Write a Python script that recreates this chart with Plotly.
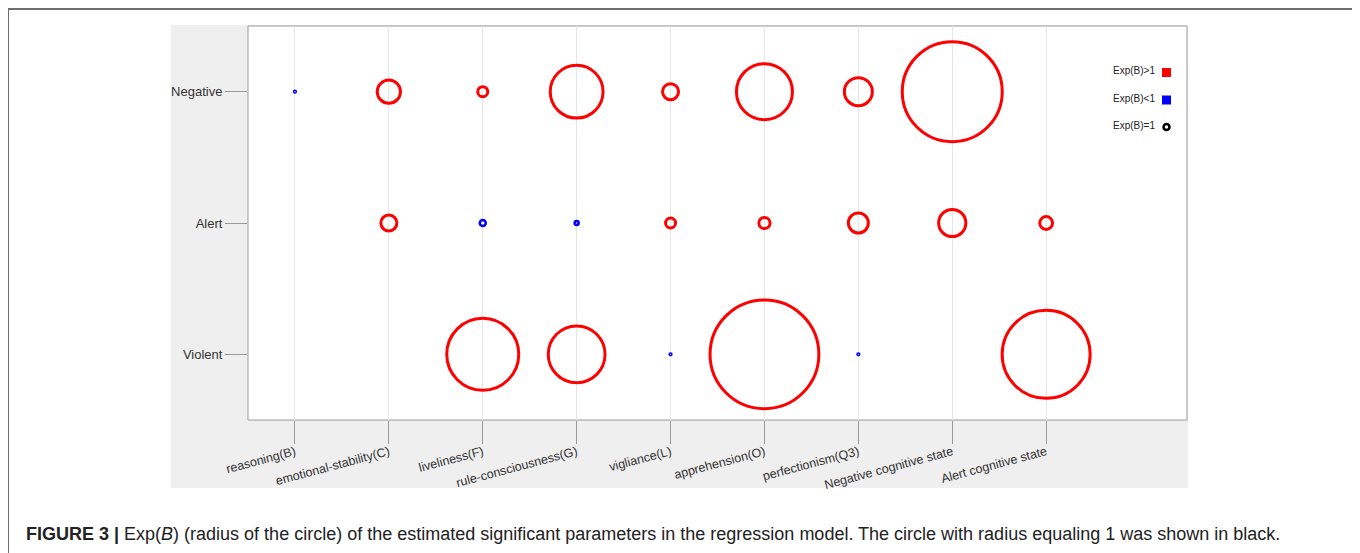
import plotly.graph_objects as go

# ---------------- data ----------------
categories = ["reasoning(B)", "emotional-stability(C)", "liveliness(F)",
              "rule-consciousness(G)", "vigliance(L)", "apprehension(O)",
              "perfectionism(Q3)", "Negative cognitive state", "Alert cognitive state"]
rows = ["Violent", "Alert", "Negative"]

# Exp(B) per category (None = not significant)
negative_expb = [0.35, 2.9, 1.25, 6.6, 2.0, 7.0, 3.5, 12.5, None]
alert_expb = [None, 2.0, 0.75, 0.5, 1.25, 1.4, 2.5, 3.4, 1.6]
violent_expb = [None, None, 9.0, 7.1, 0.35, 13.6, 0.35, None, 11.0]

legend_labels = ["Exp(B)>1", "Exp(B)<1", "Exp(B)=1"]
caption_bold = "FIGURE 3 |"
caption_text = ("Exp(<i>B</i>) (radius of the circle) of the estimated significant parameters "
                "in the regression model. The circle with radius equaling 1 was shown in black.")

# ---------------- layout constants ----------------
OFF = 8  # default page body margin
W, H = 1360 - OFF, 553 - OFF
L, R, T, B = 248, 1187, 26, 420  # page pixel coords of the plot area
PW, PH = R - L, B - T
PX_PER_UNIT = 8.0


def px(x):
    return (x - L) / PW


def py(y):
    return 1 - (y - T) / PH


def colour(v):
    if v > 1:
        return "#ff0000"
    if v < 1:
        return "#0000ff"
    return "#000000"


def stroke(v):
    if v > 1:
        return 3
    return 2.5 if v >= 0.5 else 1.5


fig = go.Figure()

for row_name, vals in zip(["Negative", "Alert", "Violent"],
                          [negative_expb, alert_expb, violent_expb]):
    xs, ys, sizes, cols, widths = [], [], [], [], []
    for cat, v in zip(categories, vals):
        if v is None:
            continue
        xs.append(cat)
        ys.append(row_name)
        sizes.append(v * PX_PER_UNIT)
        cols.append(colour(v))
        widths.append(stroke(v))
    fig.add_trace(go.Scatter(
        x=xs, y=ys, mode="markers", showlegend=False, hoverinfo="skip",
        marker=dict(symbol="circle-open", size=sizes, color=cols, opacity=1,
                    line=dict(width=widths, color=cols)),
    ))

shapes = []
# outer figure frame
frame_col = "#6e6e6e"
shapes.append(dict(type="line", xref="paper", yref="paper", x0=px(8), x1=px(1355),
                   y0=py(9), y1=py(9), line=dict(color=frame_col, width=2), layer="below"))
shapes.append(dict(type="line", xref="paper", yref="paper", x0=px(8), x1=px(8),
                   y0=py(9), y1=py(556), line=dict(color=frame_col, width=2), layer="below"))
shapes.append(dict(type="line", xref="paper", yref="paper", x0=px(1355), x1=px(1355),
                   y0=py(9), y1=py(545), line=dict(color=frame_col, width=2), layer="below"))
# gray panel
shapes.append(dict(type="rect", xref="paper", yref="paper", x0=px(171), x1=px(1188),
                   y0=py(488), y1=py(25), fillcolor="#efefef", line=dict(width=0), layer="below"))
# white plot area
shapes.append(dict(type="rect", xref="paper", yref="paper", x0=0, x1=1, y0=0, y1=1,
                   fillcolor="#ffffff", line=dict(color="#9a9a9a", width=1), layer="below"))

# custom legend
leg_y = [py(72.5), py(100), py(127)]
leg_x = px(1166.5)
leg_cols = ["#ff0000", "#0000ff", None]
annotations = []
for lab, yy, c in zip(legend_labels, leg_y, leg_cols):
    if c is not None:
        shapes.append(dict(type="rect", xref="paper", yref="paper", xsizemode="pixel",
                           ysizemode="pixel", xanchor=leg_x, yanchor=yy,
                           x0=-4.5, x1=4.5, y0=-4.5, y1=4.5, fillcolor=c, line=dict(width=0)))
    else:
        shapes.append(dict(type="circle", xref="paper", yref="paper", xsizemode="pixel",
                           ysizemode="pixel", xanchor=leg_x, yanchor=yy,
                           x0=-3, x1=3, y0=-3, y1=3, fillcolor="rgba(0,0,0,0)",
                           line=dict(color="#000000", width=2.5)))
    annotations.append(dict(xref="paper", yref="paper", x=px(1157), y=yy + 0.004, text=lab,
                            showarrow=False, xanchor="right", yanchor="middle",
                            font=dict(size=10, color="#222222", family="Liberation Sans, Arial")))

annotations.append(dict(xref="paper", yref="paper", x=px(24), y=py(534),
                        text="<b>" + caption_bold + "</b> " + caption_text,
                        showarrow=False, xanchor="left", yanchor="middle",
                        font=dict(size=18, color="#222222", family="Liberation Sans, Arial")))

fig.update_layout(
    width=W, height=H,
    margin=dict(l=L - OFF, r=(W + OFF) - R, t=T - OFF, b=(H + OFF) - B, autoexpand=False),
    paper_bgcolor="#ffffff", plot_bgcolor="rgba(0,0,0,0)",
    shapes=shapes, annotations=annotations,
    font=dict(family="Liberation Sans, Arial", color="#333333"),
)
fig.update_xaxes(
    type="category", categoryorder="array", categoryarray=categories,
    range=[-0.5, len(categories) + 0.5],
    showgrid=True, gridcolor="#e6e6e6", gridwidth=1,
    ticks="outside", ticklen=23, tickcolor="#9a9a9a", tickwidth=1,
    tickangle=-15, tickfont=dict(size=12.5, color="#333333"),
    ticklabelstandoff=-4,
    showline=False, zeroline=False, fixedrange=True,
)
fig.update_yaxes(
    type="category", categoryorder="array", categoryarray=rows,
    range=[-0.5, len(rows) - 0.5],
    showgrid=False, ticks="outside", ticklen=22, tickcolor="#9a9a9a", tickwidth=1,
    tickfont=dict(size=13, color="#333333"),
    showline=False, zeroline=False, fixedrange=True,
)

fig.write_html("out.html", config={"displayModeBar": False})
